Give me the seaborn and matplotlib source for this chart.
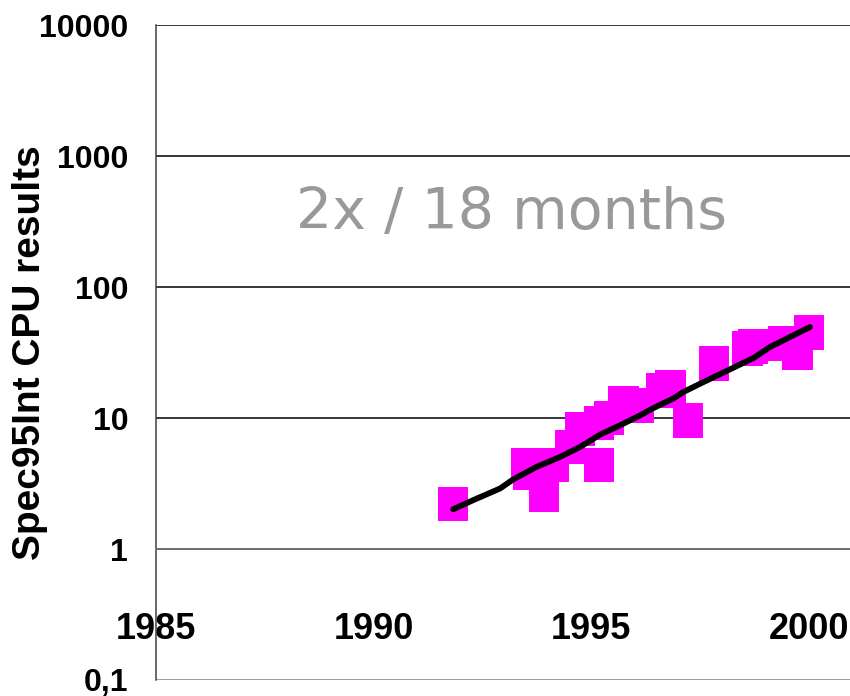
import matplotlib
matplotlib.use("Agg")
import matplotlib.pyplot as plt
import matplotlib.ticker as mticker
import numpy as np
import pandas as pd
import seaborn as sns

# ── data ─────────────────────────────────────────────────────────────────────
cpu_year = [1991.83, 1993.51, 1993.55, 1993.92, 1994.15, 1994.52, 1994.75,
            1995.18, 1995.18, 1995.41, 1995.74, 1996.10, 1996.61, 1996.82,
            1997.23, 1997.83, 1998.59, 1998.72, 1999.41, 1999.74, 2000.01]
cpu_spec = [2.20, 4.37, 3.80, 2.58, 4.37, 5.99, 8.22,
            4.37, 9.13, 9.97, 12.97, 12.5, 16.3, 17.2,
            9.62, 26.2, 34.0, 35.3, 37.2, 31.7, 45.1]

trend_year = [1991.83, 1992.29, 1992.91, 1993.21, 1993.75, 1994.29, 1994.75,
              1995.21, 1995.67, 1996.13, 1996.43, 1996.89, 1997.12, 1997.58,
              1998.12, 1998.73, 1999.11, 1999.50, 2000.03]
trend_spec = [2.01, 2.36, 2.90, 3.40, 4.24, 5.05, 6.02,
              7.48, 8.81, 10.5, 11.9, 14.1, 15.8, 18.8,
              22.9, 28.7, 34.8, 40.4, 49.5]

year_ticks = [1985, 1990, 1995, 2000]
spec_ticks = [0.1, 1, 10, 100, 1000, 10000]
spec_labels = ['0,1', '1', '10', '100', '1000', '10000']

points = pd.DataFrame({'year': cpu_year, 'spec': cpu_spec})
trend = pd.DataFrame({'year': trend_year, 'spec': trend_spec})

sns.set_style('white')
plt.rcParams['font.family'] = ['Liberation Sans', 'DejaVu Sans']
plt.rcParams['text.color'] = 'black'
plt.rcParams['axes.labelcolor'] = 'black'
plt.rcParams['xtick.labelcolor'] = 'black'
plt.rcParams['ytick.labelcolor'] = 'black'

fig = plt.figure(figsize=(8.5, 6.96), dpi=100)
ax = fig.add_axes([0.1835, 0.023, 0.8165, 0.941])

# slightly taller-than-wide square, like the original markers
box = [(-0.44, -0.5), (0.44, -0.5), (0.44, 0.5), (-0.44, 0.5), (-0.44, -0.5)]
sns.scatterplot(data=points, x='year', y='spec', ax=ax, marker=box, s=620,
                color='#ff00ff', edgecolor='none', linewidth=0, zorder=3)
sns.lineplot(data=trend, x='year', y='spec', ax=ax, color='black',
             linewidth=4.2, zorder=4, sort=False)

ax.set_yscale('log')
ax.set_ylim(0.1, 10000)
ax.set_xlim(1985, 2000.95)

ax.yaxis.set_major_locator(mticker.FixedLocator(spec_ticks))
ax.yaxis.set_minor_locator(mticker.NullLocator())
ax.set_yticklabels(spec_labels)
ax.set_xticks(year_ticks)
ax.set_xticklabels([str(y) for y in year_ticks])

for v in spec_ticks:
    ax.axhline(v, color='black' if v > 0.1 else '#808080', linewidth=1.1, zorder=1)

ax.spines['top'].set_visible(False)
ax.spines['right'].set_visible(False)
ax.spines['bottom'].set_position(('data', 1))
ax.spines['bottom'].set_color('#808080')
ax.spines['bottom'].set_linewidth(1.1)
ax.spines['left'].set_color('#404040')
ax.spines['left'].set_linewidth(1.1)

ax.tick_params(axis='y', direction='out', length=7, width=1, color='#404040',
               pad=13, labelsize=23, labelcolor='black')
ax.tick_params(axis='x', direction='out', length=9, width=1.3, color='#808080',
               pad=36, labelsize=26, labelcolor='black')
for lab in ax.get_xticklabels() + ax.get_yticklabels():
    lab.set_fontweight('bold')

ax.set_xlabel('')
ax.set_ylabel('Spec95Int CPU results', fontsize=28, fontweight='bold', color='black')
ax.yaxis.label.set_verticalalignment('center')
ax.yaxis.set_label_coords(-0.182, 0.5)

ax.text(1993.18, 364, '2x / 18 months', color='#999999', fontsize=41,
        ha='center', va='center', family=['DejaVu Sans'])

fig.savefig('out.png', dpi=100)
